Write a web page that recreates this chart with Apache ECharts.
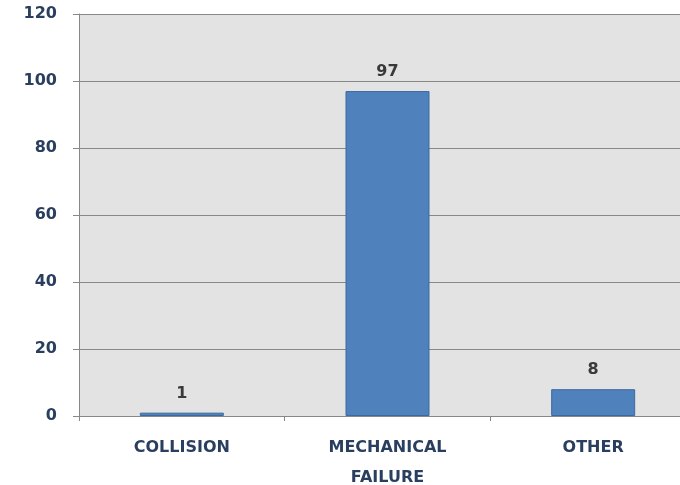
<!DOCTYPE html>
<html><head><meta charset="utf-8">
<script src="https://cdn.jsdelivr.net/npm/echarts@6/dist/echarts.min.js"></script>
<style>html,body{margin:0;padding:0;background:#fff}#c{width:680px;height:485px}</style>
</head><body><div id="c"></div>
<script>
const categories = ['COLLISION', 'MECHANICAL\nFAILURE', 'OTHER'];
const values = [1, 97, 8];
const yTicks = [0, 20, 40, 60, 80, 100, 120];

const chart = echarts.init(document.getElementById('c'), null, {renderer: 'canvas'});
chart.setOption({
  animation: false,
  backgroundColor: '#ffffff',
  grid: {left: 79, top: 14, right: -16, bottom: 69, containLabel: false, outerBoundsMode: 'none',
         show: true, backgroundColor: '#e3e3e3', borderWidth: 0},
  xAxis: {
    type: 'category', data: categories,
    axisLine: {lineStyle: {color: '#888888', width: 1}},
    axisTick: {show: true, length: 5, lineStyle: {color: '#888888'}},
    axisLabel: {color: '#2a3f5f', fontFamily: 'DejaVu Sans', fontWeight: 'bold', fontSize: 16, margin: 17, lineHeight: 30}
  },
  yAxis: {
    type: 'value', min: yTicks[0], max: yTicks[yTicks.length - 1], interval: 20,
    axisLine: {show: true, lineStyle: {color: '#888888', width: 1}},
    axisTick: {show: true, length: 6, lineStyle: {color: '#888888'}},
    splitLine: {lineStyle: {color: '#888888', width: 1}},
    axisLabel: {color: '#2a3f5f', fontFamily: 'DejaVu Sans', fontWeight: 'bold', fontSize: 16, margin: 22, padding: [4, 0, 0, 0]}
  },
  series: [{
    type: 'bar', data: values, barWidth: 84,
    itemStyle: {color: '#4f81bd', borderColor: '#3c6a9e', borderWidth: 1},
    label: {show: true, position: 'top', distance: 11, color: '#3a3a3a', fontFamily: 'DejaVu Sans', fontWeight: 'bold', fontSize: 16}
  }]
});
</script></body></html>
